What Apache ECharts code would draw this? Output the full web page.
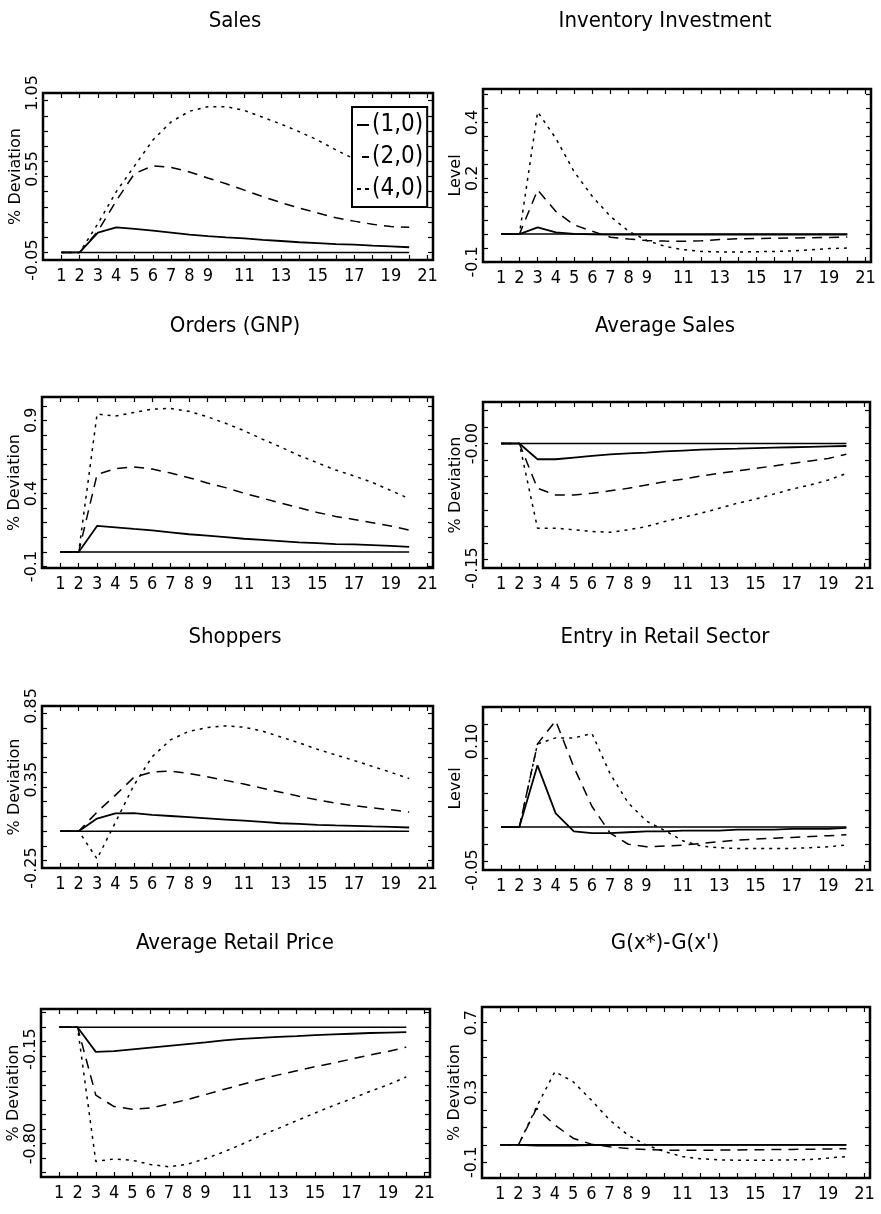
<!DOCTYPE html>
<html>
<head>
<meta charset="utf-8">
<title>Responses</title>
<script src="https://cdn.jsdelivr.net/npm/echarts@6.0.0/dist/echarts.min.js"></script>
<style>
  html, body { margin: 0; padding: 0; background: #fff; }
  #chart { width: 881px; height: 1214px; }
</style>
</head>
<body>
<div id="chart"></div>
<script>
const periods = [1, 2, 3, 4, 5, 6, 7, 8, 9, 10, 11, 12, 13, 14, 15, 16, 17, 18, 19, 20];
const xTickLabels = [1, 2, 3, 4, 5, 6, 7, 8, 9, 11, 13, 15, 17, 19, 21];
const legendNames = ['(1,0)', '(2,0)', '(4,0)'];
const zeroLine = [0, 0, 0, 0, 0, 0, 0, 0, 0, 0, 0, 0, 0, 0, 0, 0, 0, 0, 0, 0];

const titles = ['Sales', 'Inventory Investment', 'Orders (GNP)', 'Average Sales',
  'Shoppers', 'Entry in Retail Sector', 'Average Retail Price', "G(x*)-G(x')"];
const yNames = ['% Deviation', 'Level', '% Deviation', '% Deviation',
  '% Deviation', 'Level', '% Deviation', '% Deviation'];

// tick labels as printed on each y axis
const salesTicks = ['-0.05', '0.55', '1.05'];
const inventoryTicks = ['-0.1', '0.2', '0.4'];
const ordersTicks = ['-0.1', '0.4', '0.9'];
const avgSalesTicks = ['-0.15', '-0.00'];
const shoppersTicks = ['-0.25', '0.35', '0.85'];
const entryTicks = ['-0.05', '0.10'];
const priceTicks = ['-0.80', '-0.15'];
const gapTicks = ['-0.1', '0.3', '0.7'];

// Sales
const sales1 = [0, 0, 0.13, 0.165, 0.155, 0.143, 0.131, 0.117, 0.107, 0.099, 0.092, 0.083, 0.075, 0.067, 0.061, 0.055, 0.051, 0.045, 0.040, 0.034];
const sales2 = [0, 0, 0.14, 0.34, 0.52, 0.57, 0.56, 0.53, 0.49, 0.452, 0.41, 0.367, 0.328, 0.292, 0.26, 0.228, 0.206, 0.185, 0.17, 0.165];
const sales4 = [0, 0, 0.19, 0.40, 0.57, 0.74, 0.86, 0.93, 0.96, 0.96, 0.935, 0.89, 0.845, 0.795, 0.74, 0.675, 0.615, 0.58, 0.545, 0.51];

// Inventory Investment
const inv1 = [0, 0, 0.024, 0.006, 0.001, -0.001, -0.002, -0.002, -0.002, -0.002, -0.002, -0.002, -0.002, -0.002, -0.002, -0.002, -0.002, -0.002, -0.002, -0.002];
const inv2 = [0, 0, 0.158, 0.081, 0.033, 0.010, -0.011, -0.018, -0.023, -0.025, -0.026, -0.024, -0.019, -0.017, -0.016, -0.015, -0.014, -0.013, -0.012, -0.010];
const inv4 = [0, 0, 0.438, 0.343, 0.224, 0.135, 0.063, 0.010, -0.023, -0.044, -0.056, -0.062, -0.064, -0.064, -0.063, -0.062, -0.060, -0.056, -0.052, -0.050];

// Orders (GNP)
const orders1 = [0, 0, 0.178, 0.168, 0.157, 0.147, 0.134, 0.121, 0.111, 0.101, 0.090, 0.082, 0.074, 0.066, 0.060, 0.054, 0.051, 0.047, 0.041, 0.035];
const orders2 = [0, 0, 0.53, 0.57, 0.582, 0.567, 0.54, 0.508, 0.472, 0.44, 0.402, 0.368, 0.335, 0.302, 0.27, 0.243, 0.222, 0.2, 0.178, 0.149];
const orders4 = [0, 0, 0.943, 0.93, 0.954, 0.977, 0.982, 0.962, 0.925, 0.88, 0.83, 0.772, 0.718, 0.66, 0.61, 0.56, 0.52, 0.475, 0.42, 0.365];

// Average Sales
const avgSales1 = [0, 0, -0.019, -0.019, -0.017, -0.015, -0.013, -0.012, -0.011, -0.0095, -0.0085, -0.0075, -0.0068, -0.0062, -0.0055, -0.005, -0.0045, -0.004, -0.0035, -0.003];
const avgSales2 = [0, 0, -0.054, -0.062, -0.062, -0.060, -0.057, -0.054, -0.050, -0.046, -0.043, -0.039, -0.036, -0.033, -0.030, -0.027, -0.024, -0.021, -0.018, -0.013];
const avgSales4 = [0, 0, -0.102, -0.102, -0.104, -0.106, -0.107, -0.104, -0.100, -0.094, -0.089, -0.084, -0.078, -0.072, -0.067, -0.061, -0.055, -0.050, -0.044, -0.036];

// Shoppers
const shoppers1 = [0, 0, 0.086, 0.121, 0.122, 0.111, 0.103, 0.095, 0.087, 0.079, 0.071, 0.063, 0.054, 0.049, 0.043, 0.039, 0.036, 0.032, 0.029, 0.025];
const shoppers2 = [0, 0, 0.13, 0.245, 0.365, 0.402, 0.408, 0.392, 0.37, 0.345, 0.32, 0.292, 0.265, 0.237, 0.212, 0.19, 0.173, 0.158, 0.145, 0.13];
const shoppers4 = [0, 0, -0.188, 0.06, 0.31, 0.505, 0.62, 0.678, 0.703, 0.715, 0.706, 0.68, 0.64, 0.6, 0.556, 0.518, 0.48, 0.44, 0.4, 0.357];

// Entry in Retail Sector
const entry1 = [0, 0, 0.072, 0.016, -0.005, -0.007, -0.007, -0.006, -0.005, -0.005, -0.004, -0.004, -0.004, -0.003, -0.003, -0.003, -0.002, -0.002, -0.002, -0.001];
const entry2 = [0, 0, 0.097, 0.124, 0.07, 0.024, -0.007, -0.02, -0.023, -0.022, -0.021, -0.019, -0.017, -0.015, -0.014, -0.013, -0.012, -0.011, -0.010, -0.009];
const entry4 = [0, 0, 0.097, 0.104, 0.104, 0.109, 0.062, 0.028, 0.007, -0.004, -0.016, -0.022, -0.024, -0.025, -0.025, -0.025, -0.025, -0.024, -0.023, -0.021];

// Average Retail Price
const price1 = [0, 0, -0.17, -0.165, -0.153, -0.141, -0.129, -0.117, -0.105, -0.09, -0.081, -0.073, -0.066, -0.061, -0.055, -0.05, -0.045, -0.04, -0.037, -0.034];
const price2 = [0, 0, -0.467, -0.546, -0.564, -0.556, -0.528, -0.498, -0.463, -0.428, -0.394, -0.359, -0.328, -0.3, -0.272, -0.247, -0.219, -0.191, -0.167, -0.137];
const price4 = [0, 0, -0.923, -0.906, -0.915, -0.944, -0.96, -0.943, -0.904, -0.858, -0.805, -0.747, -0.696, -0.643, -0.59, -0.539, -0.493, -0.442, -0.396, -0.342];

// G(x*)-G(x')
const gap1 = [0, 0, -0.004, -0.005, -0.004, -0.002, -0.001, 0, 0, 0, 0, 0, 0, 0, 0, 0, 0, 0, 0, 0];
const gap2 = [0, 0, 0.21, 0.114, 0.038, 0.004, -0.011, -0.021, -0.027, -0.03, -0.031, -0.031, -0.030, -0.029, -0.028, -0.027, -0.026, -0.025, -0.024, -0.022];
const gap4 = [0, 0, 0.219, 0.419, 0.362, 0.257, 0.143, 0.057, 0, -0.038, -0.067, -0.08, -0.086, -0.088, -0.088, -0.088, -0.086, -0.084, -0.076, -0.067];

const NARROW = "'Liberation Sans Narrow', 'DejaVu Sans Condensed', 'Liberation Sans', sans-serif";
const ROUND = "'DejaVu Sans', 'Liberation Sans', sans-serif";

// box = [left, top, width, height] of each frame
const panels = [
  { lines: [sales1, sales2, sales4], ticks: salesTicks, min: -0.05, max: 1.05, step: 0.1, box: [43, 93, 390, 167] },
  { lines: [inv1, inv2, inv4], ticks: inventoryTicks, min: -0.1, max: 0.52, step: 0.05, box: [483, 89, 388, 173] },
  { lines: [orders1, orders2, orders4], ticks: ordersTicks, min: -0.11, max: 1.06, step: 0.1, box: [42, 397, 391, 171] },
  { lines: [avgSales1, avgSales2, avgSales4], ticks: avgSalesTicks, min: -0.15, max: 0.05, step: 0.02, box: [483, 402, 387, 166] },
  { lines: [shoppers1, shoppers2, shoppers4], ticks: shoppersTicks, min: -0.25, max: 0.85, step: 0.1, box: [42, 706, 391, 162] },
  { lines: [entry1, entry2, entry4], ticks: entryTicks, min: -0.05, max: 0.14, step: 0.02, box: [483, 707, 387, 163] },
  { lines: [price1, price2, price4], ticks: priceTicks, min: -1.03, max: 0.125, step: 0.1, box: [41, 1009, 389, 168] },
  { lines: [gap1, gap2, gap4], ticks: gapTicks, min: -0.19, max: 0.79, step: 0.1, box: [482, 1007, 388, 171] }
];
const titleX = [235, 665];
const titleY = [21, 326, 637, 943];

const lineTypes = ['solid', [10, 7], [3, 5]];
// legend samples: solid bar, one short dash, two short dashes
const legendIcons = [
  'path://M0,0h12v2h-12z',
  'path://M0,0h0.01v2h-0.01z M5,0h7v2h-7z',
  'path://M0,0h4v2h-4z M8,0h4v2h-4z'
];
const xTickMarks = [];
for (let i = 1; i <= 21; i++) xTickMarks.push(i);

const grids = [], xAxes = [], yAxes = [], series = [], texts = [];

panels.forEach((p, k) => {
  const [left, top, width, height] = p.box;
  grids.push({ left, top, width, height, show: true, borderColor: '#000', borderWidth: 2.5, backgroundColor: 'transparent' });

  const yMarks = [];
  for (let v = Math.ceil(p.min / p.step) * p.step; v <= p.max + 1e-9; v += p.step) yMarks.push(+v.toFixed(4));
  const yVals = p.ticks.map(t => parseFloat(t));

  const tick = { show: true, inside: true, length: 5, lineStyle: { color: '#000', width: 1.2 } };
  ['bottom', 'top'].forEach(pos => {
    xAxes.push({
      gridIndex: k, type: 'value', min: 0, max: 21.3, position: pos,
      axisLine: { show: false, onZero: false },
      axisTick: Object.assign({ customValues: xTickMarks }, tick),
      axisLabel: pos === 'bottom'
        ? { customValues: xTickLabels, margin: 7, fontFamily: NARROW, fontSize: 18, color: '#000' }
        : { show: false },
      splitLine: { show: false }
    });
  });
  yAxes.push({
    gridIndex: k, type: 'value', min: p.min, max: p.max, position: 'left',
    name: yNames[k], nameLocation: 'middle', nameRotate: 90, nameGap: 19, nameMoveOverlap: false,
    nameTextStyle: { fontFamily: ROUND, fontSize: 16, color: '#000' },
    axisLine: { show: false, onZero: false },
    axisTick: Object.assign({ customValues: yMarks }, tick),
    axisLabel: {
      customValues: yVals, rotate: 90, margin: 2, fontFamily: ROUND, fontSize: 16, color: '#000',
      formatter: v => {
        const i = yVals.findIndex(t => Math.abs(t - v) < 1e-9);
        return i >= 0 ? p.ticks[i] : '';
      }
    },
    splitLine: { show: false }
  });
  yAxes.push({
    gridIndex: k, type: 'value', min: p.min, max: p.max, position: 'right',
    axisLine: { show: false, onZero: false },
    axisTick: Object.assign({ customValues: yMarks }, tick),
    axisLabel: { show: false },
    splitLine: { show: false }
  });

  const xi = 2 * k, yi = 2 * k;
  series.push({
    type: 'line', xAxisIndex: xi, yAxisIndex: yi, symbol: 'none', silent: true,
    data: periods.map((t, i) => [t, zeroLine[i]]),
    lineStyle: { color: '#000', width: 1.5, type: 'solid' }
  });
  p.lines.forEach((arr, j) => {
    series.push({
      name: legendNames[j], type: 'line', xAxisIndex: xi, yAxisIndex: yi, symbol: 'none',
      data: periods.map((t, i) => [t, arr[i]]),
      lineStyle: { color: '#000', width: j === 0 ? 1.8 : 1.5, type: lineTypes[j] },
      itemStyle: { color: '#000' }
    });
  });

  texts.push({
    type: 'text', x: titleX[k % 2], y: titleY[Math.floor(k / 2)],
    style: {
      text: titles[k], fill: '#000', fontFamily: NARROW, fontSize: 22,
      align: 'center', verticalAlign: 'middle', textAlign: 'center', textVerticalAlign: 'middle'
    }
  });
});

const chart = echarts.init(document.getElementById('chart'), null, { renderer: 'canvas' });
chart.setOption({
  backgroundColor: '#fff',
  animation: false,
  grid: grids,
  xAxis: xAxes,
  yAxis: yAxes,
  legend: {
    data: legendNames.map((n, j) => ({ name: n, icon: legendIcons[j] })),
    orient: 'vertical', left: 352, top: 107,
    padding: [6, 4, 6, 5], itemGap: 8, itemWidth: 12, itemHeight: 2,
    borderColor: '#000', borderWidth: 2, backgroundColor: '#fff', selectedMode: false,
    itemStyle: { color: '#000', borderWidth: 0 },
    textStyle: { fontFamily: NARROW, fontSize: 24, color: '#000', padding: [0, 0, 0, -2] }
  },
  graphic: { elements: texts },
  series
});
</script>
</body>
</html>
